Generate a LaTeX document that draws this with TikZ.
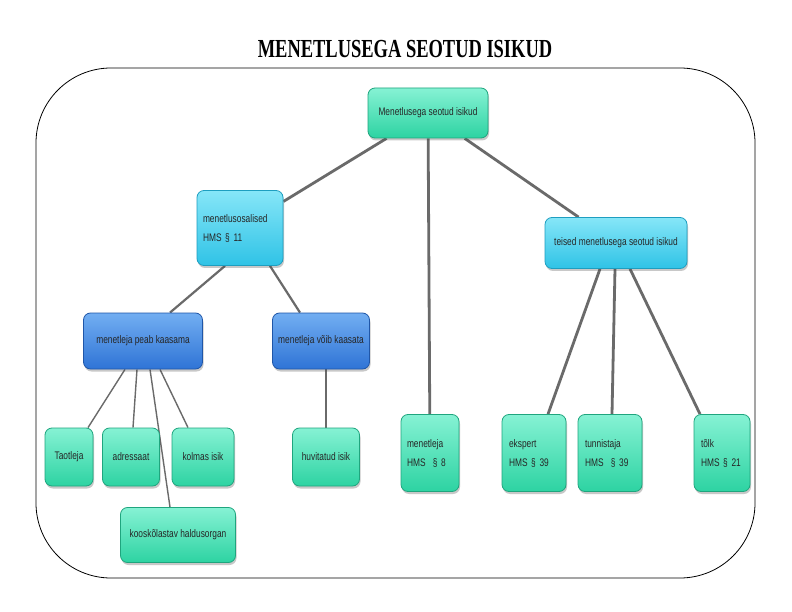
\documentclass[tikz,border=0pt]{standalone}
\usepackage{fontspec}
\setmainfont{Liberation Sans}[FakeStretch=0.76]
\newfontfamily\titlefont{Liberation Serif}[FakeStretch=0.71]
\usetikzlibrary{shadows,backgrounds,calc}
\definecolor{gtop}{HTML}{86F2D4}
\definecolor{gbot}{HTML}{2DD3A2}
\definecolor{gdraw}{HTML}{1FA57E}
\definecolor{ctop}{HTML}{86E6F8}
\definecolor{cbot}{HTML}{2FC3E6}
\definecolor{cdraw}{HTML}{1E9EC0}
\definecolor{btop}{HTML}{72AEF2}
\definecolor{bbot}{HTML}{2F74D6}
\definecolor{bdraw}{HTML}{1F56A8}
\definecolor{conn}{HTML}{6A6A6A}
\tikzset{
  basebox/.style={draw, rounded corners=7pt, line width=0.8pt, inner sep=0pt,
    font=\fontsize{11}{19}\selectfont, text=black!85,
    drop shadow={shadow xshift=1pt, shadow yshift=-2.5pt, opacity=0.3, fill=black!70}},
  gbox/.style={basebox, draw=gdraw, top color=gtop, bottom color=gbot},
  cbox/.style={basebox, draw=cdraw, top color=ctop, bottom color=cbot},
  bbox/.style={basebox, draw=bdraw, top color=btop, bottom color=bbot},
  thickconn/.style={draw=conn, line width=2.8pt},
  thinconn/.style={draw=conn, line width=1.4pt},
  midconn/.style={draw=conn, line width=2.2pt},
}
\begin{document}
\begin{tikzpicture}[x=1pt,y=-1pt]
\useasboundingbox (0,0) rectangle (792,612);
\draw[line width=0.8pt, rounded corners=75pt] (36,68) rectangle (755,578);
\node[font=\titlefont\bfseries\fontsize{26}{26}\selectfont] (title) at (405,49) {MENETLUSEGA SEOTUD ISIKUD};

\node[gbox, minimum width=120pt, minimum height=50pt] (root) at (428,113) {Menetlusega seotud isikud};
\node[cbox, minimum width=86pt, minimum height=75pt, text width=74pt, align=left] (mo) at (240,228) {menetlusosalised\\HMS § 11};
\node[cbox, minimum width=142pt, minimum height=51pt] (te) at (616,243) {teised menetlusega seotud isikud};
\node[bbox, minimum width=119pt, minimum height=56pt] (pk) at (143,341) {menetleja peab kaasama};
\node[bbox, minimum width=97pt, minimum height=56pt] (vk) at (321,341) {menetleja võib kaasata};
\node[gbox, minimum width=48pt, minimum height=58pt] (ta) at (69,457) {Taotleja};
\node[gbox, minimum width=57pt, minimum height=58pt] (ad) at (131,457) {adressaat};
\node[gbox, minimum width=62pt, minimum height=58pt] (km) at (203,457) {kolmas isik};
\node[gbox, minimum width=115pt, minimum height=55pt] (ko) at (178,535) {kooskõlastav haldusorgan};
\node[gbox, minimum width=67pt, minimum height=58pt] (hi) at (326,457) {huvitatud isik};
\node[gbox, minimum width=58pt, minimum height=77pt, text width=46pt, align=left] (m8) at (430,453) {menetleja\\HMS \ § 8};
\node[gbox, minimum width=64pt, minimum height=77pt, text width=50pt, align=left] (ek) at (534,453) {ekspert\\HMS § 39};
\node[gbox, minimum width=64pt, minimum height=77pt, text width=50pt, align=left] (tu) at (610,453) {tunnistaja\\HMS \ § 39};
\node[gbox, minimum width=56pt, minimum height=77pt, text width=42pt, align=left] (to) at (722,453) {tõlk\\HMS § 21};

\begin{pgfonlayer}{background}
\fill[white] (0,0) rectangle (792,612);
\draw[thickconn] (root) -- (mo);
\draw[thickconn] (root) -- (m8);
\draw[thickconn] (root) -- (te);
\draw[midconn] ($(mo.south)+(-15,0)$) -- ($(pk.north)+(27,0)$);
\draw[midconn] ($(mo.south)+(30,0)$) -- ($(vk.north)+(-21,0)$);
\draw[thinconn] ($(pk.south)+(-18,0)$) -- ($(ta.north)+(19,0)$);
\draw[thinconn] ($(pk.south)+(-6,0)$) -- ($(ad.north)+(2,0)$);
\draw[thinconn] ($(pk.south)+(7,0)$) -- ($(ko.north)+(-8,0)$);
\draw[thinconn] ($(pk.south)+(17,0)$) -- ($(km.north)+(-15,0)$);
\draw[thinconn] (vk.south -| hi.north) -- (hi.north);
\draw[thickconn] ($(te.south)+(-16,0)$) -- ($(ek.north)+(14,0)$);
\draw[thickconn] ($(te.south)+(-1,0)$) -- ($(tu.north)+(2,0)$);
\draw[thickconn] ($(te.south)+(14,0)$) -- ($(to.north)+(-22,0)$);
\end{pgfonlayer}
\end{tikzpicture}
\end{document}
